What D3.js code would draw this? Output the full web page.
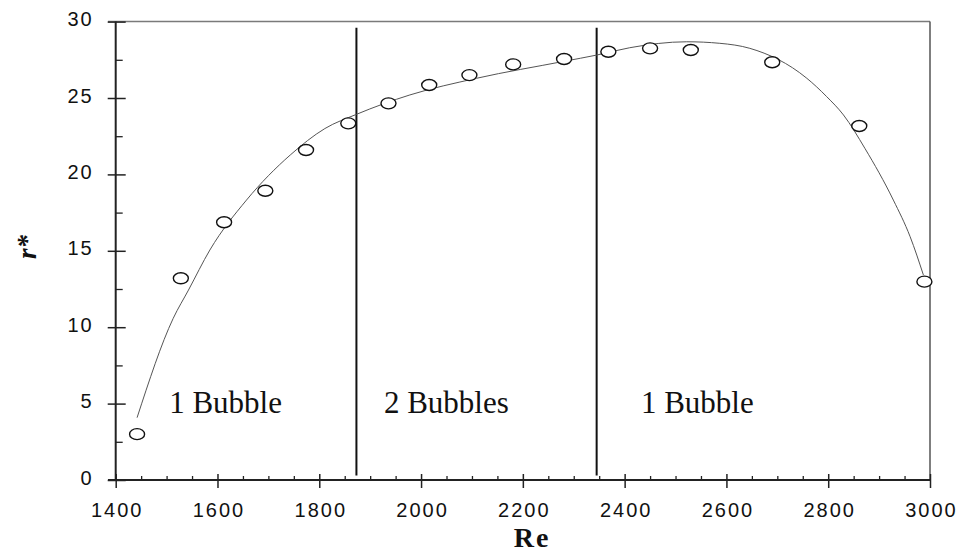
<!DOCTYPE html>
<html>
<head>
<meta charset="utf-8">
<script src="https://cdn.jsdelivr.net/npm/d3@7"></script>
<style>
  html, body { margin: 0; padding: 0; background: #fff; }
  svg { display: block; }
  .tick-label { font-family: "Liberation Sans", Arial, sans-serif; font-size: 20px; letter-spacing: 2px; fill: #111; }
  .region { font-family: "Liberation Serif", "Times New Roman", serif; font-size: 31px; fill: #111; }
</style>
</head>
<body>
<svg id="chart" width="961" height="560"></svg>
<script>
// Measured r* against Reynolds number
const reValues = [1442, 1528, 1613, 1694, 1774, 1857, 1936, 2016, 2095, 2181, 2281, 2368, 2450, 2530, 2690, 2861, 2989];
const rValues  = [3.0, 13.2, 16.87, 18.93, 21.6, 23.34, 24.65, 25.85, 26.5, 27.2, 27.55, 28.03, 28.25, 28.14, 27.34, 23.17, 12.98];

// Fitted trend line
const fitRe = [1442, 1513, 1543, 1585, 1657, 1743, 1811, 1873, 1978, 2109, 2281, 2345, 2410, 2522, 2587, 2646, 2758, 2797, 2830, 2872, 2928, 2961, 2987];
const fitR  = [4.08, 10.58, 12.43, 15.05, 18.32, 21.27, 23.0, 23.93, 25.2, 26.29, 27.4, 27.81, 28.29, 28.68, 28.58, 28.25, 26.29, 25.09, 23.89, 21.71, 18.32, 15.92, 13.42];

// Flow regime boundaries and labels
const boundaryRe = [1873, 2345];
const boundarySpan = [0.3, 29.6];
const regimeLabels = ["1 Bubble", "2 Bubbles", "1 Bubble"];
const regimeLabelRe = [1505, 1927, 2432];
const regimeLabelR = 4.4;

// Axis ticks
const xMajorTicks = [1400, 1600, 1800, 2000, 2200, 2400, 2600, 2800, 3000];
const xMinorTicks = d3.range(1450, 3000, 50).filter(v => v % 200 !== 0);
const yMajorTicks = [0, 5, 10, 15, 20, 25, 30];
const yMinorTicks = [2.5, 7.5, 12.5, 17.5, 22.5, 27.5];

const svg = d3.select("#chart");
const plotLeft = 115.7, plotRight = 930, plotTop = 21.6, plotBottom = 480;

const x = d3.scaleLinear().domain([1400, 3000]).range([plotLeft, plotRight]);
const y = d3.scaleLinear().domain([0, 30]).range([plotBottom, plotTop]);

// Frame: top and right edges
svg.append("line").attr("x1", 108).attr("x2", plotRight).attr("y1", plotTop).attr("y2", plotTop)
  .attr("stroke", "#7a7a7a").attr("stroke-width", 1.5);
svg.append("line").attr("x1", plotRight).attr("x2", plotRight).attr("y1", plotTop).attr("y2", plotBottom)
  .attr("stroke", "#555").attr("stroke-width", 1.5);

// X axis: minor ticks (inward), then majors crossing the axis
const xMinor = svg.append("g").attr("transform", `translate(0,${plotBottom})`)
  .call(d3.axisTop(x).tickValues(xMinorTicks).tickSize(4).tickFormat(""));
xMinor.select(".domain").remove();
xMinor.selectAll(".tick line").attr("stroke", "#222").attr("stroke-width", 1.3);

const xMajor = svg.append("g").attr("transform", `translate(0,${plotBottom})`)
  .call(d3.axisBottom(x).tickValues(xMajorTicks).tickFormat(d3.format("d")).tickSizeOuter(0));
xMajor.select(".domain").attr("d", `M108,0H${plotRight}`).attr("stroke", "#222").attr("stroke-width", 2);
xMajor.selectAll(".tick line").attr("y1", -6).attr("y2", 8).attr("stroke", "#222").attr("stroke-width", 1.5);
xMajor.selectAll(".tick text").attr("class", "tick-label").attr("y", 37).attr("dy", 0).attr("dx", 1);
xMajor.attr("font-size", null).attr("font-family", null);

// Y axis
const yMinor = svg.append("g").attr("transform", `translate(${plotLeft},0)`)
  .call(d3.axisRight(y).tickValues(yMinorTicks).tickSize(7).tickFormat(""));
yMinor.select(".domain").remove();
yMinor.selectAll(".tick line").attr("stroke", "#222").attr("stroke-width", 1.3);

const yMajor = svg.append("g").attr("transform", `translate(${plotLeft},0)`)
  .call(d3.axisLeft(y).tickValues(yMajorTicks).tickSizeOuter(0));
yMajor.select(".domain").attr("d", `M0,${plotTop}V${plotBottom}`).attr("stroke", "#222").attr("stroke-width", 2);
yMajor.selectAll(".tick line").attr("x1", -8).attr("x2", 10).attr("stroke", "#222").attr("stroke-width", 1.5);
yMajor.selectAll(".tick text").attr("class", "tick-label").attr("x", -22).attr("dy", 4);
yMajor.attr("font-size", null).attr("font-family", null);

// Regime boundaries
svg.append("g").selectAll("line").data(boundaryRe).join("line")
  .attr("x1", d => x(d)).attr("x2", d => x(d))
  .attr("y1", y(boundarySpan[1])).attr("y2", y(boundarySpan[0]))
  .attr("stroke", "#111").attr("stroke-width", 2);

// Fitted curve
const fit = fitRe.map((v, i) => [v, fitR[i]]);
svg.append("path").datum(fit)
  .attr("fill", "none").attr("stroke", "#555").attr("stroke-width", 1)
  .attr("d", d3.line().x(d => x(d[0])).y(d => y(d[1])).curve(d3.curveMonotoneX));

// Data markers
const pts = reValues.map((v, i) => [v, rValues[i]]);
svg.append("g").selectAll("ellipse").data(pts).join("ellipse")
  .attr("cx", d => x(d[0])).attr("cy", d => y(d[1]))
  .attr("rx", 7.5).attr("ry", 5.5)
  .attr("fill", "#fff").attr("stroke", "#111").attr("stroke-width", 1.4);

// Regime labels
svg.append("g").selectAll("text").data(regimeLabels).join("text")
  .attr("class", "region")
  .attr("x", (d, i) => x(regimeLabelRe[i])).attr("y", y(regimeLabelR))
  .text(d => d);

// Axis titles
svg.append("text").attr("x", 532).attr("y", 547).attr("text-anchor", "middle")
  .attr("font-family", "Liberation Serif, Times New Roman, serif").attr("font-weight", "bold")
  .attr("font-size", 28).attr("letter-spacing", 2).attr("fill", "#111").text("Re");

svg.append("text").attr("transform", "translate(36,247) rotate(-90)").attr("text-anchor", "middle")
  .attr("font-family", "Liberation Serif, Times New Roman, serif").attr("font-weight", "bold")
  .attr("font-style", "italic").attr("font-size", 27).attr("fill", "#111").text("r*");
</script>
</body>
</html>
